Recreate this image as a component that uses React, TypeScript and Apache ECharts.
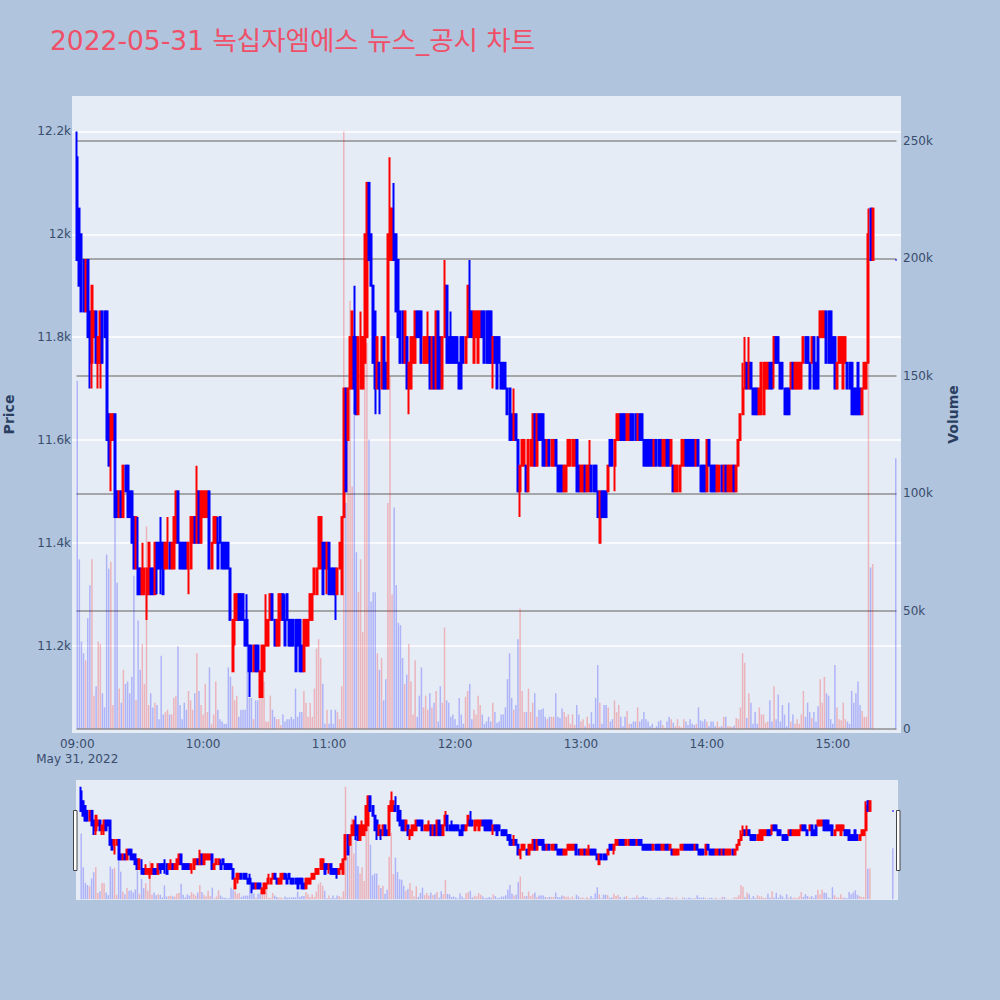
import React, { useEffect, useRef } from "react";
import * as echarts from "echarts";

const TITLE = "2022-05-31 녹십자엠에스 뉴스_공시 차트";
const DATE_LABEL = "May 31, 2022";
const PRICE_TICKS = [11200, 11400, 11600, 11800, 12000, 12200];
const VOLUME_TICKS = [0, 50, 100, 150, 200, 250];
const PRICE_RANGE = [11030, 12269];
const VOLUME_RANGE = [-1.9, 269.1];
const MINUTE_FIRST = -2;
const MINUTE_LAST = 392;
const UP = "#ff0000";
const DOWN = "#0000ff";

// [open, close] or [open, close, low, high], one per minute from 09:00
const candles09 = [
  [12150,11950,11950,12200],[12050,11900],[12000,11850],[11950,11850],[11850,11950],[11950,11800],[11850,11750,11700,11850],[11750,11900,11700,11900],[11800,11850],[11850,11750],
  [11750,11800,11700,11800],[11750,11850,11700,11850],[11850,11750],[11850,11800],[11850,11600],[11650,11550],[11600,11650,11500,11650],[11600,11650],[11650,11450],[11500,11450],
  [11450,11500],[11500,11450],[11450,11550],[11550,11500],[11550,11450],[11500,11450],[11500,11400],[11450,11350],[11350,11450],[11350,11300,11300,11450],
  [11350,11300],[11300,11350,11300,11400],[11300,11350],[11300,11350,11250,11350],[11300,11400],[11350,11300],[11350,11300],[11300,11400],[11400,11350,11300,11400],[11400,11350],
  [11400,11350,11300,11450],[11400,11300],[11350,11400],[11350,11400,11350,11450],[11400,11350],[11350,11400],[11350,11450],[11400,11500],[11500,11400],[11400,11350],
  [11400,11350],[11400,11350],[11400,11350],[11350,11400,11300,11400],[11350,11450],[11400,11450],[11450,11400],[11400,11500,11400,11550],[11500,11400],[11400,11500],
];
const candles10 = [
  [11450,11500],[11450,11500],[11450,11500],[11500,11350],[11350,11400],[11400,11450],[11400,11450],[11400,11350,11350,11450],[11450,11400],[11400,11350],
  [11400,11350],[11400,11350],[11400,11350],[11350,11250],[11150,11250],[11250,11300,11200,11300],[11250,11300],[11300,11250],[11300,11250],[11300,11250],
  [11250,11200],[11250,11200,11200,11300],[11200,11150,11100,11200],[11200,11150],[11150,11200],[11200,11150],[11200,11150],[11100,11150],[11100,11200],[11150,11200],
  [11200,11250,11200,11300],[11200,11250],[11250,11300],[11300,11250],[11250,11200],[11200,11250],[11200,11300],[11250,11300],[11300,11250],[11250,11200,11200,11300],
  [11300,11250],[11250,11200],[11250,11200],[11250,11200],[11250,11150],[11250,11200],[11250,11150],[11200,11150],[11150,11250],[11200,11250],
  [11200,11250],[11250,11300],[11250,11300],[11300,11350],[11300,11350],[11350,11450,11350,11450],[11350,11450],[11400,11300],[11400,11350],[11350,11400,11300,11400],
];
const candles11 = [
  [11400,11300],[11350,11300],[11350,11300],[11350,11300,11250,11350],[11300,11350],[11350,11400],[11300,11450],[11450,11700],[11700,11500],[11600,11700],
  [11700,11800],[11700,11850],[11800,11700,11650,11900],[11800,11650],[11650,11800],[11700,11800,11700,11850],[11700,11800],[11750,12000],[11800,12100],[12100,11950],
  [12000,11900],[11900,11750],[11850,11700,11650,11850],[11700,11800],[11750,11700,11650,11750],[11700,11800],[11800,11700],[11750,11700],[11700,12000],[11950,12050,11950,12150],
  [11950,12050],[12000,11950,11950,12100],[12000,11850],[11950,11800],[11850,11750],[11850,11750],[11750,11850],[11800,11700],[11700,11750,11650,11750],[11700,11800],
  [11750,11800],[11750,11850],[11850,11800],[11850,11800],[11850,11750],[11750,11800],[11750,11800],[11750,11800,11750,11850],[11800,11700],[11700,11800],
  [11800,11700],[11700,11850],[11850,11700],[11800,11700],[11700,11800],[11800,11900,11800,11950],[11900,11750],[11800,11750],[11800,11750,11750,11850],[11800,11750],
];
const candles12 = [
  [11800,11750],[11800,11750],[11750,11700],[11800,11700],[11800,11750],[11750,11800],[11800,11900],[11850,11800,11800,11950],[11850,11800],[11750,11850],
  [11800,11850],[11750,11850],[11800,11850],[11850,11800],[11850,11750],[11850,11750],[11850,11750],[11850,11750],[11750,11800,11700,11800],[11800,11750],
  [11800,11700],[11800,11750],[11750,11700],[11750,11700],[11750,11700],[11700,11650],[11700,11600],[11650,11600],[11600,11650,11600,11700],[11650,11600],
  [11600,11500],[11500,11550,11450,11550],[11550,11600],[11550,11600],[11550,11500],[11500,11600],[11550,11600],[11550,11650],[11650,11550],[11550,11650],
  [11650,11600],[11650,11600],[11650,11550],[11600,11550],[11550,11600],[11600,11550],[11550,11600],[11550,11600],[11600,11550],[11550,11500],
  [11550,11500],[11550,11500],[11500,11550],[11500,11550],[11550,11600],[11550,11600],[11550,11600],[11550,11600],[11600,11500],[11550,11500],
];
const candles13 = [
  [11500,11550],[11500,11550],[11550,11500],[11500,11550],[11500,11550,11500,11600],[11550,11500],[11550,11500],[11550,11500],[11500,11450],[11400,11500],
  [11500,11450],[11500,11450],[11500,11450],[11500,11550],[11600,11550],[11600,11550],[11550,11600,11500,11600],[11600,11650],[11600,11650],[11650,11600],
  [11650,11600],[11650,11600],[11600,11650],[11600,11650],[11650,11600],[11650,11600],[11650,11600],[11600,11650],[11650,11600],[11650,11600],
  [11600,11550],[11600,11550],[11600,11550],[11600,11550],[11600,11550],[11550,11600],[11600,11550],[11600,11550],[11600,11550],[11550,11600],
  [11550,11600],[11600,11550],[11600,11550],[11550,11600],[11550,11500],[11500,11550],[11500,11550],[11500,11550],[11550,11600],[11550,11600],
  [11600,11550],[11600,11550],[11600,11550],[11600,11550],[11600,11550],[11550,11600],[11600,11550],[11550,11500],[11550,11500],[11550,11500],
];
const candles14 = [
  [11500,11600],[11600,11550],[11550,11500],[11550,11500],[11550,11500],[11500,11550],[11500,11550],[11550,11500],[11500,11550],[11550,11500],
  [11500,11550],[11500,11550],[11500,11550],[11550,11500],[11500,11550],[11550,11600],[11600,11650],[11650,11700,11650,11750],[11700,11750,11700,11800],[11750,11700],
  [11700,11750,11700,11800],[11750,11700],[11700,11650],[11700,11650],[11700,11650],[11650,11700],[11650,11750],[11650,11750],[11700,11750],[11700,11750],
  [11750,11700],[11750,11700],[11750,11800,11700,11800],[11800,11750],[11800,11750],[11750,11700],[11750,11700],[11700,11650],[11700,11650],[11700,11650],
  [11700,11750],[11750,11700],[11700,11750],[11700,11750],[11700,11750],[11700,11750],[11750,11800],[11800,11750],[11800,11750],[11750,11700],
  [11750,11800],[11800,11700],[11750,11700],[11800,11700],[11800,11850],[11800,11850],[11800,11850],[11850,11750],[11850,11750],[11850,11750],
];
const candles15 = [
  [11800,11750],[11800,11700],[11700,11750],[11750,11800],[11750,11800],[11700,11800],[11750,11800],[11750,11700],[11750,11700],[11750,11650],
  [11700,11650],[11700,11650],[11750,11650],[11700,11650],[11650,11700],[11700,11750],[11700,11750],[11750,12000,11750,12050],[12050,11950],[11950,12050],
];
const closingCandleMinute = 390;
const closingCandle = [11950, 11950];

// Volume in thousands, one per minute from 09:00
const volume09 = [
  148,72,37,32,29,47,61,72,14,18,37,36,15,9,74,68,71,10,100,62,17,11,25,19,20,15,22,65,12,46,
  25,36,19,86,10,15,9,11,10,4,31,6,7,8,6,6,13,14,35,10,4,11,8,16,12,8,15,32,16,10,
];
const volume10 = [
  6,19,7,26,2,6,20,8,4,3,2,2,26,22,18,12,14,5,8,8,8,44,13,13,4,12,12,13,13,20,
  3,3,14,8,5,4,4,1.5,6,3,4,4,5,4,17,5,7,7,16,11,5,11,5,17,34,38,30,19,2,8,
];
const volume11 = [
  2,8,2,8,7,4,18,254,96,123,182,103,138,75,58,72,41,164,164,123,54,58,58,32,25,30,12,21,96,150,
  57,94,61,45,44,30,19,23,36,20,6,29,5,14,26,9,14,8,15,9,11,16,3,18,11,43,12,11,5,6,
];
const volume12 = [
  4,1.5,13,6,2,13.5,16,19,4,8,6,14,10,6,2,3,5,3,11,7,2.5,3,6,6,9,21,32,13,8,10,
  38,51,16,7,7,17,7,11,15,5,8,8,8.5,5,4,5,5,5,15,5,4.5,8.5,7,5,6,2,6,1.5,10,6,
];
const volume13 = [
  3,4,1,5,2,7,2,13,27,11,2,10,10,9,3,4,12,7,10,5,1,5,7.5,2,2,3,3,9,3,4,
  7,4,3,1,2,0.3,1,3,3.5,1.5,0.3,3,5,4,2.5,1,4,1,0.5,4,3,1.5,4,2,1.5,2,9,3.5,3,4,
];
const volume14 = [
  3,1,3,3,1,3,0.7,1,5,5,1,1,0.7,1.2,4.5,4,9,32,28,4.5,15,11,2,7,2,9,6,6,2.5,3,
  12,3,18,4,14.5,3,10,6,1,11,3,6,2,4,2,6,16,5,11,7,4.5,7,3,9.5,21,11,22,15,14,4,
];
const volume15 = [2,27,9,4,3.5,11,4,3,2,16,11,15,20,10,7.5,5,5,188,68.5,70];
const closingVolume = 115;

const candles = [...candles09, ...candles10, ...candles11, ...candles12, ...candles13, ...candles14, ...candles15];
const volumes = [...volume09, ...volume10, ...volume11, ...volume12, ...volume13, ...volume14, ...volume15];

const pad = (n: number) => String(n).padStart(2, "0");
const minutes: number[] = [];
for (let m = MINUTE_FIRST; m <= MINUTE_LAST; m++) minutes.push(m);
const categories = minutes.map((m) => {
  const t = 540 + m;
  return pad(Math.floor(t / 60)) + ":" + pad(t % 60);
});

const candleOf = (m: number): number[] | null => {
  const c = m === closingCandleMinute ? closingCandle : candles[m];
  if (!c) return null;
  const [o, cl, l, h] = c;
  return [o, cl, l ?? Math.min(o, cl), h ?? Math.max(o, cl)];
};
const candleData = minutes.map((m) => candleOf(m) ?? ["-", "-", "-", "-"]);
const volumeData = minutes.map((m) => {
  const v = m === closingCandleMinute ? closingVolume : volumes[m];
  const c = candleOf(m);
  if (v === undefined || !c) return { value: "-" };
  return {
    value: v,
    itemStyle: { color: c[1] > c[0] ? "rgba(255,0,0,0.24)" : "rgba(0,0,255,0.24)" },
  };
});

const FONT = "'DejaVu Sans', Verdana, 'Noto Sans CJK KR', sans-serif";
const TEXT = "#3a4c6b";
const TITLE_TEXT = "#2a3f5f";

const candleStyle = { color: UP, color0: DOWN, borderColor: UP, borderColor0: DOWN, borderWidth: 2 };

function buildOption() {
  const hiddenCat = {
    type: "category",
    data: categories,
    axisLine: { show: false },
    axisTick: { show: false },
    axisLabel: { show: false },
    splitLine: { show: false },
  };
  return {
    animation: false,
    backgroundColor: "#b0c4de",
    title: {
      text: TITLE,
      left: 50,
      top: 27,
      padding: 0,
      textStyle: { fontFamily: FONT, fontSize: 26.5, fontWeight: "normal", color: "#ef5068" },
    },
    grid: [
      { left: 72, top: 96, width: 829, height: 637, show: true, backgroundColor: "#e5ecf6", borderWidth: 0, outerBoundsMode: "none" },
      { left: 76.5, top: 96, width: 820, height: 637, show: false, outerBoundsMode: "none" },
      { left: 76, top: 780, width: 822, height: 120, show: true, backgroundColor: "#e5ecf6", borderWidth: 0, outerBoundsMode: "none" },
    ],
    xAxis: [
      {
        type: "category",
        gridIndex: 0,
        data: categories,
        axisLine: { show: false },
        axisTick: { show: false },
        splitLine: { show: false },
        axisLabel: {
          color: TEXT,
          fontFamily: FONT,
          fontSize: 12,
          margin: 3,
          lineHeight: 15,
          interval: (i: number, v: string) => v.endsWith(":00") && i <= 362,
          formatter: (v: string) => (v === "09:00" ? v + "\n" + DATE_LABEL : v),
        },
      },
      { type: "value", gridIndex: 1, min: 0, max: 1, show: false },
      { ...hiddenCat, gridIndex: 2 },
    ],
    yAxis: [
      {
        type: "value",
        gridIndex: 0,
        min: PRICE_RANGE[0],
        max: PRICE_RANGE[1],
        name: "Price",
        nameLocation: "middle",
        nameGap: 56,
        nameTextStyle: { color: TITLE_TEXT, fontFamily: FONT, fontSize: 14, fontWeight: "bold" },
        axisLine: { show: false },
        axisTick: { show: false, customValues: PRICE_TICKS },
        splitLine: { show: true, lineStyle: { color: "#ffffff", width: 1.5 } },
        axisLabel: {
          customValues: PRICE_TICKS,
          color: TEXT,
          fontFamily: FONT,
          fontSize: 12,
          margin: 1,
          padding: [2, 0, 0, 0],
          formatter: (v: number) => v / 1000 + "k",
        },
      },
      {
        type: "value",
        gridIndex: 0,
        position: "right",
        min: VOLUME_RANGE[0],
        max: VOLUME_RANGE[1],
        name: "Volume",
        nameLocation: "middle",
        nameGap: 45,
        nameTextStyle: { color: TITLE_TEXT, fontFamily: FONT, fontSize: 14, fontWeight: "bold" },
        axisLine: { show: false },
        axisTick: { show: false, customValues: VOLUME_TICKS },
        splitLine: { show: false },
        axisLabel: {
          customValues: VOLUME_TICKS,
          color: TEXT,
          fontFamily: FONT,
          fontSize: 12,
          margin: 2,
          padding: [2, 0, 0, 0],
          formatter: (v: number) => (v === 0 ? "0" : v + "k"),
        },
      },
      {
        type: "value",
        gridIndex: 1,
        min: VOLUME_RANGE[0],
        max: VOLUME_RANGE[1],
        axisLine: { show: false },
        axisTick: { show: false, customValues: VOLUME_TICKS },
        axisLabel: { show: false, customValues: VOLUME_TICKS },
        splitLine: { show: true, lineStyle: { color: "#8f8f8f", width: 1.6 } },
      },
      { type: "value", gridIndex: 2, min: PRICE_RANGE[0], max: PRICE_RANGE[1], show: false, splitLine: { show: false } },
      { type: "value", gridIndex: 2, min: VOLUME_RANGE[0], max: VOLUME_RANGE[1], show: false, splitLine: { show: false } },
    ],
    series: [
      { type: "candlestick", xAxisIndex: 0, yAxisIndex: 0, data: candleData, barWidth: 1.5, itemStyle: candleStyle, z: 3, clip: true },
      { type: "bar", xAxisIndex: 0, yAxisIndex: 1, data: volumeData, barWidth: 1.5, z: 4 },
      { type: "candlestick", xAxisIndex: 2, yAxisIndex: 3, data: candleData, barWidth: 1.5, itemStyle: candleStyle, z: 3, clip: true },
      { type: "bar", xAxisIndex: 2, yAxisIndex: 4, data: volumeData, barWidth: 1.5, z: 4 },
    ],
    graphic: [
      { type: "rect", shape: { x: 73.5, y: 810.5, width: 3.5, height: 60 }, style: { fill: "#fff", stroke: "#444", lineWidth: 1 }, z: 10 },
      { type: "rect", shape: { x: 896.5, y: 810.5, width: 3.5, height: 60 }, style: { fill: "#fff", stroke: "#444", lineWidth: 1 }, z: 10 },
    ],
  };
}

export default function App() {
  const ref = useRef<HTMLDivElement>(null);
  useEffect(() => {
    document.body.style.margin = "0";
    const chart = echarts.init(ref.current!, null, { renderer: "svg" });
    chart.setOption(buildOption() as any);
    return () => chart.dispose();
  }, []);
  return <div ref={ref} style={{ width: 1000, height: 1000 }} />;
}
